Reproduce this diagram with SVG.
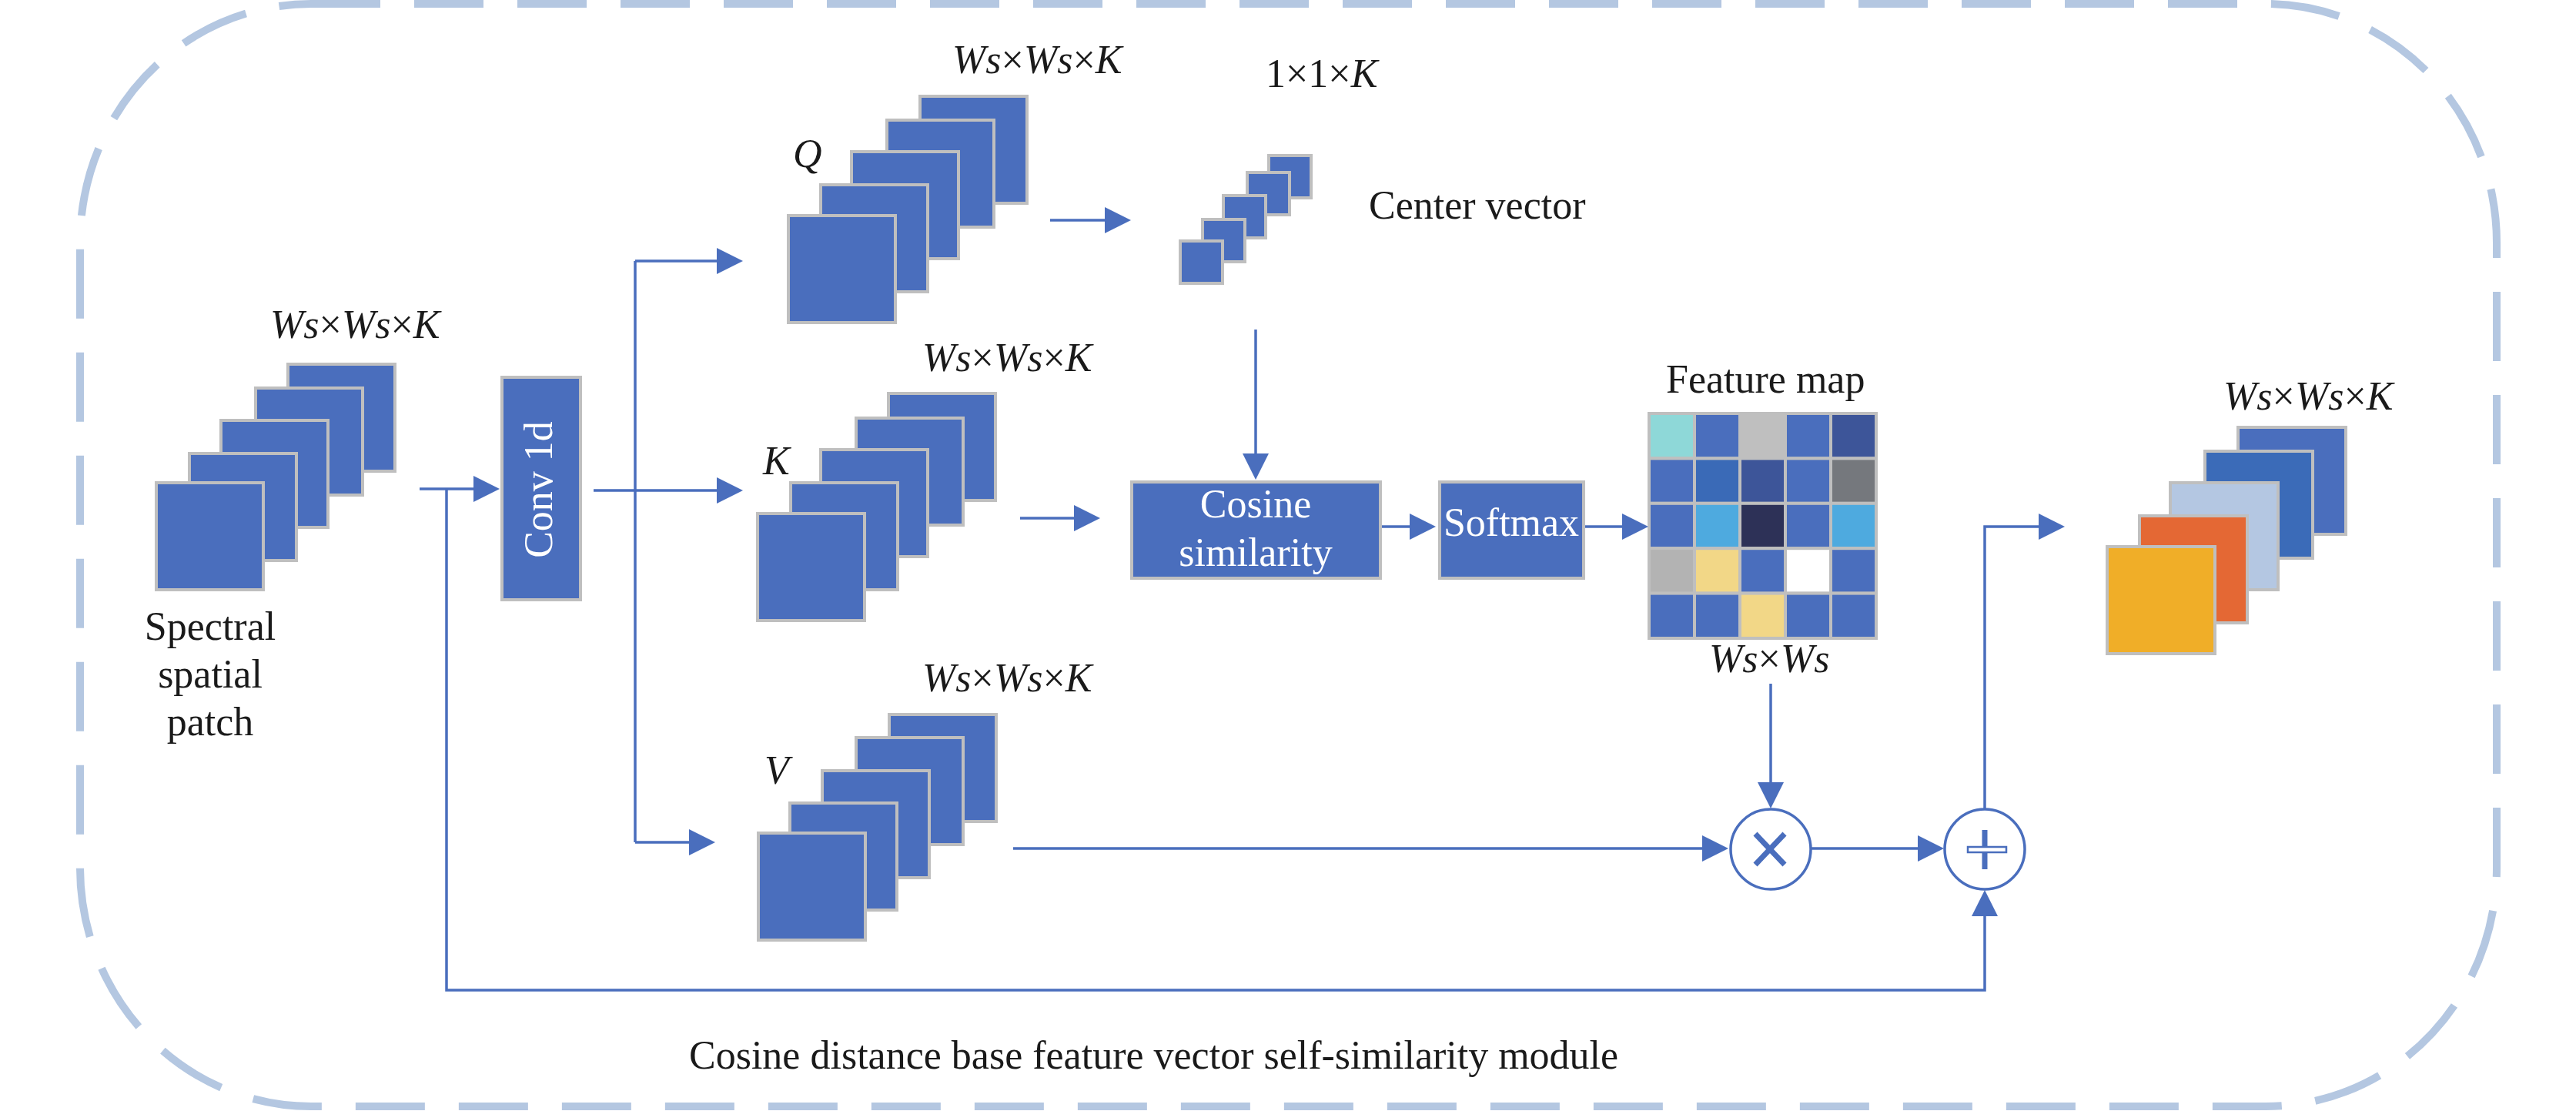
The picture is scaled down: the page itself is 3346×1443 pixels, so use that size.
<svg xmlns="http://www.w3.org/2000/svg" width="3346" height="1443" viewBox="0 0 3346 1443">
<defs>
<marker id="ah" markerWidth="34" markerHeight="34" refX="1" refY="17" orient="auto" markerUnits="userSpaceOnUse"><path d="M0,0 L34,17 L0,34 z" fill="#4A6EBD"/></marker>
<style>
.blk{fill:#4A6EBD;stroke:#BFBFBF;stroke-width:4}
.cell{stroke:#BFBFBF;stroke-width:4}
.ln{fill:none;stroke:#4A6EBD;stroke-width:3.5}
.arr{fill:none;stroke:#4A6EBD;stroke-width:3.5;marker-end:url(#ah)}
.t{font-family:"Liberation Serif","Times New Roman",serif;font-size:52px;fill:#1a1a1a}
.w{font-family:"Liberation Serif","Times New Roman",serif;font-size:52px;fill:#ffffff}
.i{font-style:italic}
.op{fill:#ffffff;stroke:#4A6EBD;stroke-width:3.5}
</style>
</defs>
<rect id="frame" x="104" y="5" width="3139" height="1432" rx="300" ry="310" fill="none" stroke="#B4C7E1" stroke-width="10" stroke-dasharray="90 44"/>

<g id="input-patch">
<rect class="blk" x="374" y="473" width="139" height="139"/>
<rect class="blk" x="332" y="504" width="139" height="139"/>
<rect class="blk" x="287" y="546" width="139" height="139"/>
<rect class="blk" x="246" y="589" width="139" height="139"/>
<rect class="blk" x="203" y="627" width="139" height="139"/>
<text class="t" x="351" y="439"><tspan class="i">Ws</tspan>×<tspan class="i">Ws</tspan>×<tspan class="i">K</tspan></text>
<text class="t" x="273" y="831" text-anchor="middle">Spectral</text>
<text class="t" x="273" y="893" text-anchor="middle">spatial</text>
<text class="t" x="273" y="955" text-anchor="middle">patch</text>
</g>

<g id="conv">
<rect class="blk" x="652" y="490" width="102" height="289"/>
<text class="w" transform="translate(717,636) rotate(-90)" text-anchor="middle">Conv 1d</text>
</g>

<g id="Q">
<rect class="blk" x="1195" y="125" width="139" height="139"/>
<rect class="blk" x="1152" y="156" width="139" height="139"/>
<rect class="blk" x="1106" y="197" width="139" height="139"/>
<rect class="blk" x="1066" y="240" width="139" height="139"/>
<rect class="blk" x="1024" y="280" width="139" height="139"/>
<text class="t i" x="1030" y="217">Q</text>
<text class="t" x="1237" y="95"><tspan class="i">Ws</tspan>×<tspan class="i">Ws</tspan>×<tspan class="i">K</tspan></text>
</g>

<g id="center-vector">
<rect class="blk" x="1648" y="202" width="55" height="55"/>
<rect class="blk" x="1620" y="224" width="55" height="55"/>
<rect class="blk" x="1589" y="254" width="55" height="55"/>
<rect class="blk" x="1562" y="285" width="55" height="55"/>
<rect class="blk" x="1533" y="313" width="55" height="55"/>
<text class="t" x="1644" y="113">1×1×<tspan class="i">K</tspan></text>
<text class="t" x="1778" y="284">Center vector</text>
</g>

<g id="K">
<rect class="blk" x="1154" y="511" width="139" height="139"/>
<rect class="blk" x="1112" y="543" width="139" height="139"/>
<rect class="blk" x="1066" y="584" width="139" height="139"/>
<rect class="blk" x="1027" y="627" width="139" height="139"/>
<rect class="blk" x="984" y="667" width="139" height="139"/>
<text class="t i" x="991" y="616">K</text>
<text class="t" x="1198" y="482"><tspan class="i">Ws</tspan>×<tspan class="i">Ws</tspan>×<tspan class="i">K</tspan></text>
</g>

<g id="V">
<rect class="blk" x="1155" y="928" width="139" height="139"/>
<rect class="blk" x="1112" y="958" width="139" height="139"/>
<rect class="blk" x="1068" y="1001" width="139" height="139"/>
<rect class="blk" x="1026" y="1043" width="139" height="139"/>
<rect class="blk" x="985" y="1082" width="139" height="139"/>
<text class="t i" x="993" y="1018">V</text>
<text class="t" x="1198" y="898"><tspan class="i">Ws</tspan>×<tspan class="i">Ws</tspan>×<tspan class="i">K</tspan></text>
</g>

<g id="cosine">
<rect class="blk" x="1470" y="626" width="323" height="125"/>
<text class="w" x="1631" y="672" text-anchor="middle">Cosine</text>
<text class="w" x="1631" y="735" text-anchor="middle">similarity</text>
</g>

<g id="softmax">
<rect class="blk" x="1870" y="626" width="187" height="125"/>
<text class="w" x="1963" y="696" text-anchor="middle">Softmax</text>
</g>

<g id="feature-map">
<rect class="cell" x="2142" y="537" width="59" height="58.4" fill="#8ED8D8"/>
<rect class="cell" x="2201" y="537" width="59" height="58.4" fill="#4A6EBD"/>
<rect class="cell" x="2260" y="537" width="59" height="58.4" fill="#BFBFBF"/>
<rect class="cell" x="2319" y="537" width="59" height="58.4" fill="#4A6EBD"/>
<rect class="cell" x="2378" y="537" width="59" height="58.4" fill="#3D5599"/>
<rect class="cell" x="2142" y="595.4" width="59" height="58.4" fill="#4A6EBD"/>
<rect class="cell" x="2201" y="595.4" width="59" height="58.4" fill="#3A6AB7"/>
<rect class="cell" x="2260" y="595.4" width="59" height="58.4" fill="#3D5599"/>
<rect class="cell" x="2319" y="595.4" width="59" height="58.4" fill="#4A6EBD"/>
<rect class="cell" x="2378" y="595.4" width="59" height="58.4" fill="#75787D"/>
<rect class="cell" x="2142" y="653.8" width="59" height="58.4" fill="#4A6EBD"/>
<rect class="cell" x="2201" y="653.8" width="59" height="58.4" fill="#4EAADF"/>
<rect class="cell" x="2260" y="653.8" width="59" height="58.4" fill="#2D3157"/>
<rect class="cell" x="2319" y="653.8" width="59" height="58.4" fill="#4A6EBD"/>
<rect class="cell" x="2378" y="653.8" width="59" height="58.4" fill="#4EAADF"/>
<rect class="cell" x="2142" y="712.2" width="59" height="58.4" fill="#B3B3B3"/>
<rect class="cell" x="2201" y="712.2" width="59" height="58.4" fill="#F2D787"/>
<rect class="cell" x="2260" y="712.2" width="59" height="58.4" fill="#4A6EBD"/>
<rect class="cell" x="2319" y="712.2" width="59" height="58.4" fill="#FFFFFF"/>
<rect class="cell" x="2378" y="712.2" width="59" height="58.4" fill="#4A6EBD"/>
<rect class="cell" x="2142" y="770.6" width="59" height="58.4" fill="#4A6EBD"/>
<rect class="cell" x="2201" y="770.6" width="59" height="58.4" fill="#4A6EBD"/>
<rect class="cell" x="2260" y="770.6" width="59" height="58.4" fill="#F2D787"/>
<rect class="cell" x="2319" y="770.6" width="59" height="58.4" fill="#4A6EBD"/>
<rect class="cell" x="2378" y="770.6" width="59" height="58.4" fill="#4A6EBD"/>
<text class="t" x="2164" y="510">Feature map</text>
<text class="t" x="2220" y="873"><tspan class="i">Ws</tspan>×<tspan class="i">Ws</tspan></text>
</g>

<g id="multiply">
<circle class="op" cx="2300" cy="1103" r="52"/>
<path d="M2280,1083 L2318,1123 M2318,1083 L2280,1123" stroke="#4A6EBD" stroke-width="7" fill="none"/>
</g>

<g id="add">
<circle class="op" cx="2578" cy="1103" r="52"/>
<path d="M2578,1078 V1129" stroke="#4A6EBD" stroke-width="7" fill="none"/>
<rect x="2556" y="1100" width="50" height="7" fill="#ffffff" stroke="#4A6EBD" stroke-width="2.5"/>
</g>

<g id="output">
<rect class="blk" x="2907" y="555" width="140" height="139" fill="#4A6EBD"/>
<rect class="blk" x="2864" y="586" width="140" height="139" style="fill:#3B6BB8"/>
<rect class="blk" x="2819" y="627" width="140" height="139" style="fill:#B4C7E2"/>
<rect class="blk" x="2779" y="670" width="140" height="139" style="fill:#E46834"/>
<rect class="blk" x="2737" y="710" width="140" height="139" style="fill:#F0AE28"/>
<text class="t" x="2888" y="532"><tspan class="i">Ws</tspan>×<tspan class="i">Ws</tspan>×<tspan class="i">K</tspan></text>
</g>

<g id="connectors">
<path class="arr" d="M545,635 H616"/>
<path class="arr" d="M580,635 V1286 H2578 V1189"/>
<path class="ln" d="M771,637 H825 M825,339 V1094"/>
<path class="arr" d="M825,339 H932"/>
<path class="arr" d="M825,637 H932"/>
<path class="arr" d="M825,1094 H896"/>
<path class="arr" d="M1364,286 H1436"/>
<path class="arr" d="M1631,428 V590"/>
<path class="arr" d="M1325,673 H1396"/>
<path class="arr" d="M1795,684 H1832"/>
<path class="arr" d="M2059,684 H2108"/>
<path class="arr" d="M2300,888 V1017"/>
<path class="arr" d="M1316,1102 H2212"/>
<path class="arr" d="M2352,1102 H2492"/>
<path class="arr" d="M2578,1051 V684 H2649"/>
</g>

<text id="caption" class="t" x="895" y="1388">Cosine distance base feature vector self-similarity module</text>
</svg>
